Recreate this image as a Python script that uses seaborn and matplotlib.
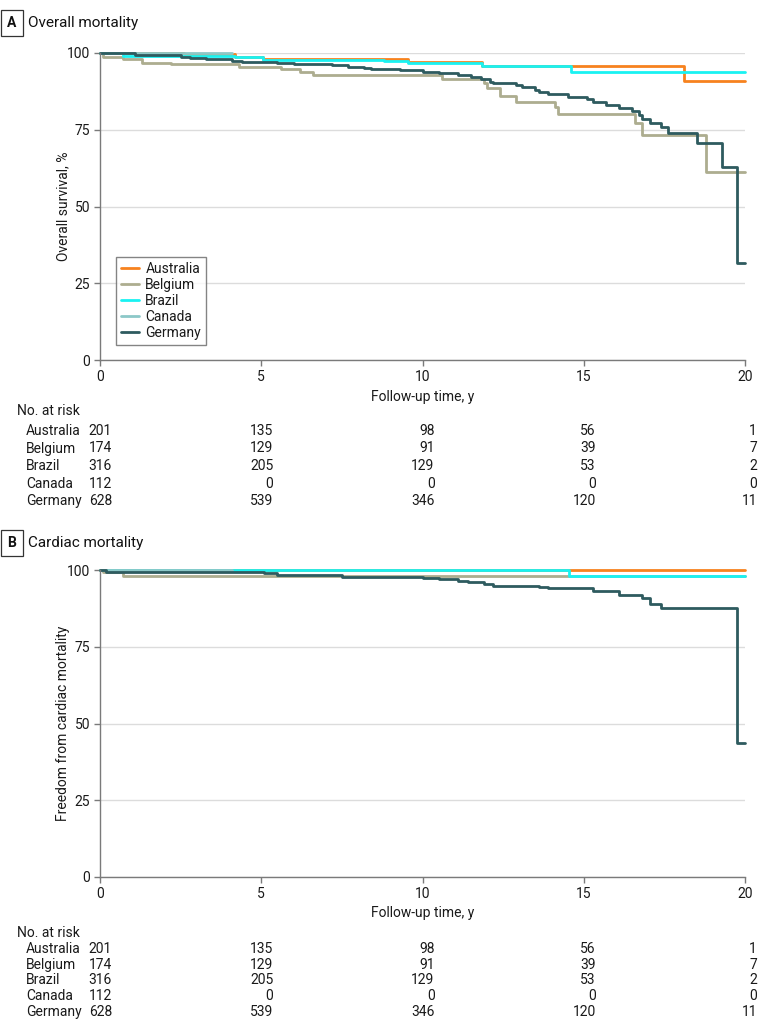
import numpy as np
import pandas as pd
import matplotlib
matplotlib.use("Agg")
import matplotlib.pyplot as plt
import matplotlib.transforms as mtransforms
import seaborn as sns

# ---------------- data ----------------
countries = ["Australia", "Belgium", "Brazil", "Canada", "Germany"]
colors = ["#F7821E", "#ADAD8F", "#19F2F2", "#8CC8C8", "#2E5B5F"]

# Overall mortality (Kaplan-Meier step points: time, survival %)
ov_aus_t = [0, 2.6, 4.2, 5.05, 9.55, 11.85, 18.1, 20]
ov_aus_s = [100, 99.6, 98.7, 98.0, 97.1, 95.9, 91.0, 91.0]
ov_bel_t = [0, 0.1, 0.7, 1.3, 2.2, 4.3, 5.6, 6.2, 6.6, 10.6, 11.9, 12.0, 12.4,
            12.9, 14.1, 14.2, 16.6, 16.8, 18.8, 20]
ov_bel_s = [100, 98.6, 97.9, 96.8, 96.3, 95.5, 94.7, 93.9, 92.8, 91.5, 90.2, 88.7,
            86.0, 84.1, 82.5, 80.1, 77.1, 73.3, 61.1, 61.1]
ov_bra_t = [0, 0.7, 4.2, 5.05, 8.8, 9.55, 11.85, 14.6, 20]
ov_bra_s = [100, 99.1, 98.6, 97.8, 97.5, 96.6, 95.8, 93.8, 93.8]
ov_can_t = [0, 4.1]
ov_can_s = [100, 100]
ov_ger_t = [0, 1.1, 2.5, 2.8, 3.3, 4.1, 4.4, 5.5, 6.0, 7.2, 7.7, 8.2, 8.4, 9.3, 10.0,
            10.5, 11.1, 11.5, 11.8, 12.1, 12.2, 12.9, 13.1, 13.5, 13.6, 13.9, 14.5,
            15.1, 15.3, 15.7, 16.1, 16.5, 16.7, 16.8, 17.05, 17.4, 17.6, 18.5, 19.3,
            19.75, 20]
ov_ger_s = [100, 99.3, 98.8, 98.5, 98.0, 97.5, 97.1, 96.6, 96.3, 96.1, 95.5, 95.0,
            94.7, 94.4, 93.9, 93.4, 92.8, 92.3, 91.4, 90.7, 90.1, 89.6, 89.0, 87.9,
            87.2, 86.5, 85.8, 85.0, 84.1, 83.1, 82.2, 81.1, 79.8, 78.5, 77.3, 75.8,
            74.0, 70.8, 63.0, 31.7, 31.7]

# Cardiac mortality
cd_aus_t = [0, 20]
cd_aus_s = [100, 100]
cd_bel_t = [0, 0.1, 0.7, 20]
cd_bel_s = [100, 99.4, 98.1, 98.1]
cd_bra_t = [0, 14.55, 20]
cd_bra_s = [100, 98.1, 98.1]
cd_can_t = [0, 4.1]
cd_can_s = [100, 100]
cd_ger_t = [0, 0.2, 5.1, 5.5, 7.5, 10.0, 10.5, 11.1, 11.4, 11.9, 12.2, 13.6, 13.9,
            15.3, 16.1, 16.8, 17.05, 17.4, 19.75, 20]
cd_ger_s = [100, 99.5, 98.9, 98.4, 97.8, 97.4, 97.0, 96.4, 96.0, 95.3, 94.9, 94.4,
            94.0, 93.2, 91.9, 90.8, 88.8, 87.5, 43.7, 43.7]

# Numbers at risk
risk_times = [0, 5, 10, 15, 20]
risk_aus = [201, 135, 98, 56, 1]
risk_bel = [174, 129, 91, 39, 7]
risk_bra = [316, 205, 129, 53, 2]
risk_can = [112, 0, 0, 0, 0]
risk_ger = [628, 539, 346, 120, 11]
risk_rows = [risk_aus, risk_bel, risk_bra, risk_can, risk_ger]

y_ticks = [0, 25, 50, 75, 100]
x_ticks = [0, 5, 10, 15, 20]


def make_df(pairs):
    frames = []
    for name, (t, s) in zip(countries, pairs):
        frames.append(pd.DataFrame({"time": t, "surv": s, "country": name}))
    return pd.concat(frames, ignore_index=True)


df_overall = make_df([(ov_aus_t, ov_aus_s), (ov_bel_t, ov_bel_s), (ov_bra_t, ov_bra_s),
                      (ov_can_t, ov_can_s), (ov_ger_t, ov_ger_s)])
df_cardiac = make_df([(cd_aus_t, cd_aus_s), (cd_bel_t, cd_bel_s), (cd_bra_t, cd_bra_s),
                      (cd_can_t, cd_can_s), (cd_ger_t, cd_ger_s)])

# ---------------- style ----------------
sns.set_theme(style="white")
plt.rcParams["font.family"] = ["Roboto", "DejaVu Sans"]
FS = 10
TXT = "#1a1a1a"

W, H = 780, 1025
fig = plt.figure(figsize=(W / 100, H / 100), dpi=100)
fig.patch.set_facecolor("white")


def fy(py):
    return 1 - py / H


ax1 = fig.add_axes([100 / W, fy(360), 645 / W, 307 / H])
ax2 = fig.add_axes([100 / W, fy(877), 645 / W, 307 / H])

spine_c = "#7a7a7a"


def draw(ax, df, ylabel, legend):
    sns.lineplot(data=df, x="time", y="surv", hue="country", hue_order=countries,
                 palette=colors, drawstyle="steps-post", estimator=None, sort=False,
                 linewidth=2.0, clip_on=False, ax=ax, legend=legend)
    ax.set_xlim(0, 20)
    ax.set_ylim(0, 100)
    ax.set_xticks(x_ticks)
    ax.set_yticks(y_ticks)
    ax.yaxis.grid(True, color="#dcdcdc", linewidth=1.0)
    ax.set_axisbelow(True)
    for sp in ["top", "right"]:
        ax.spines[sp].set_visible(False)
    for sp in ["left", "bottom"]:
        ax.spines[sp].set_color(spine_c)
        ax.spines[sp].set_linewidth(1.0)
    ax.tick_params(axis="both", which="both", bottom=True, left=True, direction="out",
                   length=4, width=1.0, color=spine_c, labelsize=FS, labelcolor=TXT,
                   pad=3)
    ax.set_xlabel("Follow-up time, y", fontsize=FS, color=TXT)
    ax.set_ylabel(ylabel, fontsize=FS, color=TXT)
    ax.xaxis.set_label_coords(0.5, -0.122)
    ax.xaxis.label.set_va("center")
    ax.yaxis.set_label_coords(-0.057, 0.5)
    ax.yaxis.label.set_va("center")


draw(ax1, df_overall, "Overall survival, %", True)
draw(ax2, df_cardiac, "Freedom from cardiac mortality", False)
ax2.xaxis.set_label_coords(0.5, -0.117)

handles, labels = ax1.get_legend_handles_labels()
leg = ax1.legend(handles, labels, loc="lower left", bbox_to_anchor=(0.025, 0.049),
                 frameon=True, fancybox=False, edgecolor="#666666", fontsize=FS,
                 handlelength=1.3, handletextpad=0.45, borderpad=0.35,
                 labelspacing=0.15, borderaxespad=0)
leg.get_frame().set_linewidth(1.0)
for t in leg.get_texts():
    t.set_color(TXT)


# panel titles
def panel_title(letter, title, py):
    fig.text(12 / W, fy(py), letter, fontsize=FS, fontweight="bold", ha="center",
             va="center", color="#111111",
             bbox=dict(boxstyle="square,pad=0.45", fc="white", ec="#333333", lw=0.9))
    fig.text(28 / W, fy(py), title, fontsize=11, ha="left", va="center",
             color="#111111")


panel_title("A", "Overall mortality", 23)
panel_title("B", "Cardiac mortality", 543)


# risk tables
def risk_table(ax, py_head, row_ys):
    fig.text(17 / W, fy(py_head), "No. at risk", fontsize=FS, ha="left", va="center",
             color=TXT)
    offset = mtransforms.ScaledTranslation(12 / 100, 0, fig.dpi_scale_trans)
    trans = mtransforms.blended_transform_factory(ax.transData, fig.transFigure) + offset
    for name, vals, py in zip(countries, risk_rows, row_ys):
        fig.text(26 / W, fy(py), name, fontsize=FS, ha="left", va="center",
                 color=TXT)
        for t, v in zip(risk_times, vals):
            ax.text(t, fy(py), str(v), transform=trans, fontsize=FS, ha="right",
                    va="center", color=TXT, clip_on=False)


risk_table(ax1, 411, [431, 448.5, 466, 483.5, 501])
risk_table(ax2, 933, [949, 965, 980.5, 996, 1012])

fig.savefig("out.png", dpi=100, facecolor="white")
